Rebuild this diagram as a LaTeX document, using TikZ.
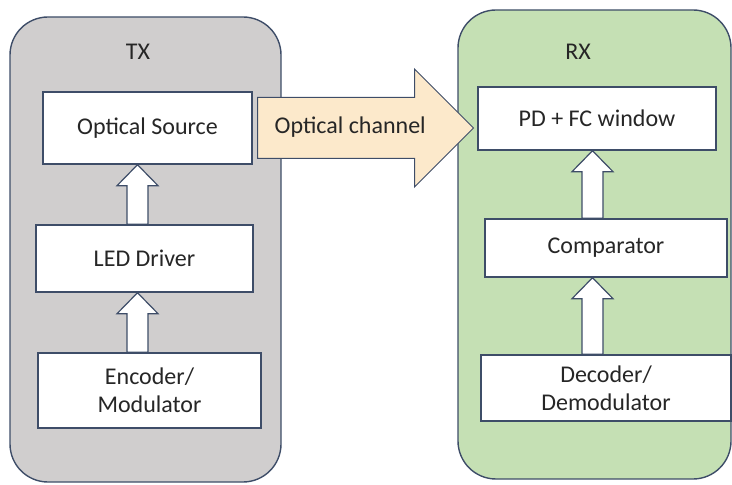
\documentclass[tikz,border=0pt]{standalone}
\usepackage{fontspec}
\setmainfont{Carlito}
\usepackage{xcolor}
\definecolor{bordeAzul}{HTML}{3E4D68}
\definecolor{grisTX}{HTML}{D0CECE}
\definecolor{verdeRX}{HTML}{C5E0B4}
\definecolor{cremaCanal}{HTML}{FCE9CB}
\definecolor{textoGris}{HTML}{262626}
\usepackage{tikz}
\usetikzlibrary{calc,shapes.arrows}

% hollow up arrow: x position, lower block, upper block
\newcommand{\subida}[3]{%
  \draw[hueca] let \p1=(#1,0), \p2=(#2.north), \p3=(#3.south) in
    (\x1-5.25pt,\y2)--(\x1-5.25pt,\y3-10.5pt)--(\x1-10.25pt,\y3-10.5pt)--(\x1,\y3)
    --(\x1+10.25pt,\y3-10.5pt)--(\x1+5.25pt,\y3-10.5pt)--(\x1+5.25pt,\y2)--cycle;}

\begin{document}
\begin{tikzpicture}[x=0.5pt,y=-0.5pt,
  font=\fontsize{12}{14}\selectfont,text=textoGris,
  caja/.style={draw=bordeAzul,line width=0.7pt,rounded corners=19pt,inner sep=0pt},
  bloque/.style={draw=bordeAzul,line width=0.7pt,fill=white,align=center,inner sep=0pt},
  hueca/.style={draw=bordeAzul,line width=0.6pt,fill=white,line join=miter},
  canal/.style={single arrow,draw=bordeAzul,line width=0.5pt,fill=cremaCanal,
    single arrow head extend=14.25pt,single arrow tip angle=90,
    minimum height=108pt,inner ysep=9pt,inner xsep=8pt,text height=9pt,text depth=3pt}]
  \useasboundingbox (0,0) rectangle (732,485);
  \node[caja,fill=grisTX,minimum width=135.5pt,minimum height=232.5pt] (tx) at (145.5,249.5) {};
  \node[caja,fill=verdeRX,minimum width=136.5pt,minimum height=234.5pt] (rx) at (594.5,244.5) {};
  \node (txlab) at (138,52) {TX};
  \node (rxlab) at (578,52) {RX};
  \node[bloque,minimum width=104.5pt,minimum height=36pt] (src) at (147.5,128) {Optical Source};
  \node[bloque,minimum width=108.5pt,minimum height=33.5pt] (led) at (144.5,258.5) {LED Driver};
  \node[bloque,minimum width=111.5pt,minimum height=37.5pt] (enc) at (149.5,390.5) {Encoder/\\Modulator};
  \node[bloque,minimum width=119pt,minimum height=31.5pt] (pd) at (597,118.5) {PD + FC window};
  \node[bloque,minimum width=121pt,minimum height=29pt] (comp) at (606,248) {Comparator};
  \node[bloque,minimum width=125pt,minimum height=33pt] (dec) at (606,388) {Decoder/\\Demodulator};
  \node[canal,anchor=tail] (chan) at (257,128) {Optical channel};
  \subida{137.5}{led}{src}
  \subida{137.5}{enc}{led}
  \subida{592.5}{comp}{pd}
  \subida{592.5}{dec}{comp}
\end{tikzpicture}
\end{document}
